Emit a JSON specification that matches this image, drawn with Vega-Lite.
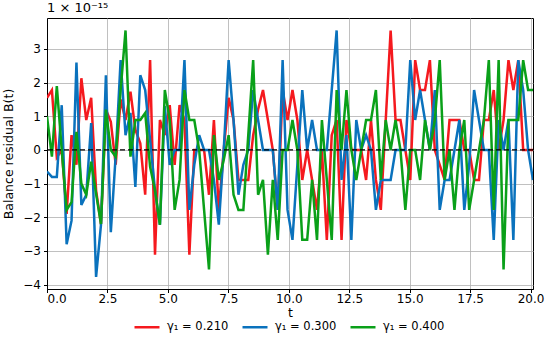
{
"$schema": "https://vega.github.io/schema/vega-lite/v6.json",
"width": 486, "height": 271,
"autosize": "none",
"padding": {"left": 47, "top": 18, "right": 17, "bottom": 54},
"title": {"text": "1 ×  10⁻¹⁵", "anchor": "start", "frame": "group", "offset": 3, "fontSize": 13, "fontWeight": "normal", "font": "DejaVu Sans", "color": "#000"},
"config": {
  "font": "DejaVu Sans",
  "view": {"stroke": "#000", "strokeWidth": 1},
  "axis": {"grid": true, "gridColor": "#b0b0b0", "gridWidth": 0.8, "domainColor": "#000", "tickColor": "#000", "tickSize": 3.5, "labelFontSize": 12, "labelColor": "#000", "titleFontSize": 12.5, "titleFontWeight": "normal", "titleColor": "#000", "labelFont": "DejaVu Sans", "titleFont": "DejaVu Sans", "labelOverlap": false}
},
"data": {"values": [
{"t":0,"s":"γ₁ = 0.210","B":1.55},{"t":0.203,"s":"γ₁ = 0.210","B":1.78},{"t":0.406,"s":"γ₁ = 0.210","B":-0.22},{"t":0.609,"s":"γ₁ = 0.210","B":0},{"t":0.812,"s":"γ₁ = 0.210","B":-1.9},{"t":1.015,"s":"γ₁ = 0.210","B":0.44},{"t":1.218,"s":"γ₁ = 0.210","B":-0.44},{"t":1.421,"s":"γ₁ = 0.210","B":2.13},{"t":1.624,"s":"γ₁ = 0.210","B":0.89},{"t":1.827,"s":"γ₁ = 0.210","B":1.55},
{"t":2.030,"s":"γ₁ = 0.210","B":-1.2},{"t":2.233,"s":"γ₁ = 0.210","B":-2.2},{"t":2.436,"s":"γ₁ = 0.210","B":1.2},{"t":2.639,"s":"γ₁ = 0.210","B":0.84},{"t":2.842,"s":"γ₁ = 0.210","B":-0.44},{"t":3.045,"s":"γ₁ = 0.210","B":1.5},{"t":3.248,"s":"γ₁ = 0.210","B":0.89},{"t":3.452,"s":"γ₁ = 0.210","B":1.73},{"t":3.655,"s":"γ₁ = 0.210","B":0.6},{"t":3.858,"s":"γ₁ = 0.210","B":0.2},
{"t":4.061,"s":"γ₁ = 0.210","B":-1.33},{"t":4.264,"s":"γ₁ = 0.210","B":2.67},{"t":4.467,"s":"γ₁ = 0.210","B":-3.11},{"t":4.670,"s":"γ₁ = 0.210","B":0.89},{"t":4.873,"s":"γ₁ = 0.210","B":0.44},{"t":5.076,"s":"γ₁ = 0.210","B":1.33},{"t":5.279,"s":"γ₁ = 0.210","B":-0.44},{"t":5.482,"s":"γ₁ = 0.210","B":1.33},{"t":5.685,"s":"γ₁ = 0.210","B":0.89},{"t":5.888,"s":"γ₁ = 0.210","B":-3.11},
{"t":6.091,"s":"γ₁ = 0.210","B":0},{"t":6.294,"s":"γ₁ = 0.210","B":0},{"t":6.497,"s":"γ₁ = 0.210","B":0},{"t":6.700,"s":"γ₁ = 0.210","B":-1.33},{"t":6.903,"s":"γ₁ = 0.210","B":0.89},{"t":7.106,"s":"γ₁ = 0.210","B":-1.78},{"t":7.309,"s":"γ₁ = 0.210","B":0},{"t":7.512,"s":"γ₁ = 0.210","B":1.55},{"t":7.715,"s":"γ₁ = 0.210","B":0.89},{"t":7.918,"s":"γ₁ = 0.210","B":-0.89},
{"t":8.121,"s":"γ₁ = 0.210","B":-0.89},{"t":8.324,"s":"γ₁ = 0.210","B":-0.89},{"t":8.527,"s":"γ₁ = 0.210","B":0.44},{"t":8.730,"s":"γ₁ = 0.210","B":1.2},{"t":8.933,"s":"γ₁ = 0.210","B":1.78},{"t":9.136,"s":"γ₁ = 0.210","B":0.89},{"t":9.339,"s":"γ₁ = 0.210","B":0},{"t":9.542,"s":"γ₁ = 0.210","B":-1.78},{"t":9.745,"s":"γ₁ = 0.210","B":1.78},{"t":9.948,"s":"γ₁ = 0.210","B":0.89},
{"t":10.152,"s":"γ₁ = 0.210","B":1.78},{"t":10.355,"s":"γ₁ = 0.210","B":0.89},{"t":10.558,"s":"γ₁ = 0.210","B":-0.89},{"t":10.761,"s":"γ₁ = 0.210","B":0},{"t":10.964,"s":"γ₁ = 0.210","B":-0.89},{"t":11.167,"s":"γ₁ = 0.210","B":-1.78},{"t":11.370,"s":"γ₁ = 0.210","B":0},{"t":11.573,"s":"γ₁ = 0.210","B":-2.67},{"t":11.776,"s":"γ₁ = 0.210","B":0.44},{"t":11.979,"s":"γ₁ = 0.210","B":0.89},
{"t":12.182,"s":"γ₁ = 0.210","B":-2.67},{"t":12.385,"s":"γ₁ = 0.210","B":0.89},{"t":12.588,"s":"γ₁ = 0.210","B":0},{"t":12.791,"s":"γ₁ = 0.210","B":0},{"t":12.994,"s":"γ₁ = 0.210","B":0},{"t":13.197,"s":"γ₁ = 0.210","B":-0.89},{"t":13.400,"s":"γ₁ = 0.210","B":0.89},{"t":13.603,"s":"γ₁ = 0.210","B":-0.89},{"t":13.806,"s":"γ₁ = 0.210","B":-1.78},{"t":14.009,"s":"γ₁ = 0.210","B":0.89},
{"t":14.212,"s":"γ₁ = 0.210","B":3.55},{"t":14.415,"s":"γ₁ = 0.210","B":0.89},{"t":14.618,"s":"γ₁ = 0.210","B":0.89},{"t":14.821,"s":"γ₁ = 0.210","B":0},{"t":15.024,"s":"γ₁ = 0.210","B":-0.89},{"t":15.227,"s":"γ₁ = 0.210","B":2.67},{"t":15.430,"s":"γ₁ = 0.210","B":1.78},{"t":15.633,"s":"γ₁ = 0.210","B":1.78},{"t":15.836,"s":"γ₁ = 0.210","B":2.67},{"t":16.039,"s":"γ₁ = 0.210","B":0},
{"t":16.242,"s":"γ₁ = 0.210","B":-0.44},{"t":16.445,"s":"γ₁ = 0.210","B":-0.89},{"t":16.648,"s":"γ₁ = 0.210","B":0.89},{"t":16.852,"s":"γ₁ = 0.210","B":0.89},{"t":17.055,"s":"γ₁ = 0.210","B":0.89},{"t":17.258,"s":"γ₁ = 0.210","B":0},{"t":17.461,"s":"γ₁ = 0.210","B":0},{"t":17.664,"s":"γ₁ = 0.210","B":-0.89},{"t":17.867,"s":"γ₁ = 0.210","B":-0.89},{"t":18.070,"s":"γ₁ = 0.210","B":0.89},
{"t":18.273,"s":"γ₁ = 0.210","B":0.89},{"t":18.476,"s":"γ₁ = 0.210","B":1.78},{"t":18.679,"s":"γ₁ = 0.210","B":0},{"t":18.882,"s":"γ₁ = 0.210","B":0.89},{"t":19.085,"s":"γ₁ = 0.210","B":2.67},{"t":19.288,"s":"γ₁ = 0.210","B":1.78},{"t":19.491,"s":"γ₁ = 0.210","B":2.67},{"t":19.694,"s":"γ₁ = 0.210","B":0},{"t":19.897,"s":"γ₁ = 0.210","B":0},{"t":20.1,"s":"γ₁ = 0.210","B":0},

{"t":0,"s":"γ₁ = 0.300","B":-0.64},{"t":0.203,"s":"γ₁ = 0.300","B":-0.8},{"t":0.406,"s":"γ₁ = 0.300","B":-0.8},{"t":0.609,"s":"γ₁ = 0.300","B":1.33},{"t":0.812,"s":"γ₁ = 0.300","B":-2.8},{"t":1.015,"s":"γ₁ = 0.300","B":-2.1},{"t":1.218,"s":"γ₁ = 0.300","B":2.6},{"t":1.421,"s":"γ₁ = 0.300","B":-1.63},{"t":1.624,"s":"γ₁ = 0.300","B":-1.33},{"t":1.827,"s":"γ₁ = 0.300","B":0.8},
{"t":2.030,"s":"γ₁ = 0.300","B":-3.77},{"t":2.233,"s":"γ₁ = 0.300","B":-2.22},{"t":2.436,"s":"γ₁ = 0.300","B":2.22},{"t":2.639,"s":"γ₁ = 0.300","B":-2.44},{"t":2.842,"s":"γ₁ = 0.300","B":-0.15},{"t":3.045,"s":"γ₁ = 0.300","B":2.67},{"t":3.248,"s":"γ₁ = 0.300","B":0.44},{"t":3.452,"s":"γ₁ = 0.300","B":1.1},{"t":3.655,"s":"γ₁ = 0.300","B":-1.1},{"t":3.858,"s":"γ₁ = 0.300","B":2.22},
{"t":4.061,"s":"γ₁ = 0.300","B":1.78},{"t":4.264,"s":"γ₁ = 0.300","B":0.3},{"t":4.467,"s":"γ₁ = 0.300","B":-1.2},{"t":4.670,"s":"γ₁ = 0.300","B":-2.22},{"t":4.873,"s":"γ₁ = 0.300","B":1.3},{"t":5.076,"s":"γ₁ = 0.300","B":-0.44},{"t":5.279,"s":"γ₁ = 0.300","B":0},{"t":5.482,"s":"γ₁ = 0.300","B":0},{"t":5.685,"s":"γ₁ = 0.300","B":2.67},{"t":5.888,"s":"γ₁ = 0.300","B":-1.78},
{"t":6.091,"s":"γ₁ = 0.300","B":-0.44},{"t":6.294,"s":"γ₁ = 0.300","B":0.44},{"t":6.497,"s":"γ₁ = 0.300","B":0},{"t":6.700,"s":"γ₁ = 0.300","B":0},{"t":6.903,"s":"γ₁ = 0.300","B":-0.89},{"t":7.106,"s":"γ₁ = 0.300","B":-2.22},{"t":7.309,"s":"γ₁ = 0.300","B":0},{"t":7.512,"s":"γ₁ = 0.300","B":2.67},{"t":7.715,"s":"γ₁ = 0.300","B":0.89},{"t":7.918,"s":"γ₁ = 0.300","B":-1.33},
{"t":8.121,"s":"γ₁ = 0.300","B":-0.44},{"t":8.324,"s":"γ₁ = 0.300","B":0},{"t":8.527,"s":"γ₁ = 0.300","B":1.78},{"t":8.730,"s":"γ₁ = 0.300","B":0.89},{"t":8.933,"s":"γ₁ = 0.300","B":0},{"t":9.136,"s":"γ₁ = 0.300","B":0},{"t":9.339,"s":"γ₁ = 0.300","B":0},{"t":9.542,"s":"γ₁ = 0.300","B":-1.78},{"t":9.745,"s":"γ₁ = 0.300","B":2.67},{"t":9.948,"s":"γ₁ = 0.300","B":-1.78},
{"t":10.152,"s":"γ₁ = 0.300","B":-2.67},{"t":10.355,"s":"γ₁ = 0.300","B":-0.44},{"t":10.558,"s":"γ₁ = 0.300","B":1.78},{"t":10.761,"s":"γ₁ = 0.300","B":0},{"t":10.964,"s":"γ₁ = 0.300","B":0.89},{"t":11.167,"s":"γ₁ = 0.300","B":0},{"t":11.370,"s":"γ₁ = 0.300","B":0},{"t":11.573,"s":"γ₁ = 0.300","B":0},{"t":11.776,"s":"γ₁ = 0.300","B":1.78},{"t":11.979,"s":"γ₁ = 0.300","B":3.55},
{"t":12.182,"s":"γ₁ = 0.300","B":-0.89},{"t":12.385,"s":"γ₁ = 0.300","B":0.44},{"t":12.588,"s":"γ₁ = 0.300","B":-2.67},{"t":12.791,"s":"γ₁ = 0.300","B":0.89},{"t":12.994,"s":"γ₁ = 0.300","B":0},{"t":13.197,"s":"γ₁ = 0.300","B":0.44},{"t":13.400,"s":"γ₁ = 0.300","B":0},{"t":13.603,"s":"γ₁ = 0.300","B":-1.78},{"t":13.806,"s":"γ₁ = 0.300","B":-0.89},{"t":14.009,"s":"γ₁ = 0.300","B":-0.89},
{"t":14.212,"s":"γ₁ = 0.300","B":-0.89},{"t":14.415,"s":"γ₁ = 0.300","B":0},{"t":14.618,"s":"γ₁ = 0.300","B":0},{"t":14.821,"s":"γ₁ = 0.300","B":0},{"t":15.024,"s":"γ₁ = 0.300","B":2.67},{"t":15.227,"s":"γ₁ = 0.300","B":0.89},{"t":15.430,"s":"γ₁ = 0.300","B":1.78},{"t":15.633,"s":"γ₁ = 0.300","B":0.89},{"t":15.836,"s":"γ₁ = 0.300","B":0},{"t":16.039,"s":"γ₁ = 0.300","B":1.78},
{"t":16.242,"s":"γ₁ = 0.300","B":-1.78},{"t":16.445,"s":"γ₁ = 0.300","B":-0.89},{"t":16.648,"s":"γ₁ = 0.300","B":-0.89},{"t":16.852,"s":"γ₁ = 0.300","B":0},{"t":17.055,"s":"γ₁ = 0.300","B":0.89},{"t":17.258,"s":"γ₁ = 0.300","B":-1.78},{"t":17.461,"s":"γ₁ = 0.300","B":-0.44},{"t":17.664,"s":"γ₁ = 0.300","B":1.78},{"t":17.867,"s":"γ₁ = 0.300","B":0.89},{"t":18.070,"s":"γ₁ = 0.300","B":0},
{"t":18.273,"s":"γ₁ = 0.300","B":0},{"t":18.476,"s":"γ₁ = 0.300","B":-2.67},{"t":18.679,"s":"γ₁ = 0.300","B":0.89},{"t":18.882,"s":"γ₁ = 0.300","B":0},{"t":19.085,"s":"γ₁ = 0.300","B":0.89},{"t":19.288,"s":"γ₁ = 0.300","B":-2.67},{"t":19.491,"s":"γ₁ = 0.300","B":2.67},{"t":19.694,"s":"γ₁ = 0.300","B":1.78},{"t":19.897,"s":"γ₁ = 0.300","B":0},{"t":20.1,"s":"γ₁ = 0.300","B":-0.89},

{"t":0,"s":"γ₁ = 0.400","B":1.0},{"t":0.203,"s":"γ₁ = 0.400","B":-0.2},{"t":0.406,"s":"γ₁ = 0.400","B":1.9},{"t":0.609,"s":"γ₁ = 0.400","B":0},{"t":0.812,"s":"γ₁ = 0.400","B":-1.78},{"t":1.015,"s":"γ₁ = 0.400","B":-1.55},{"t":1.218,"s":"γ₁ = 0.400","B":0.54},{"t":1.421,"s":"γ₁ = 0.400","B":-1.0},{"t":1.624,"s":"γ₁ = 0.400","B":-1.33},{"t":1.827,"s":"γ₁ = 0.400","B":-0.35},
{"t":2.030,"s":"γ₁ = 0.400","B":-1.3},{"t":2.233,"s":"γ₁ = 0.400","B":-2.2},{"t":2.436,"s":"γ₁ = 0.400","B":1.2},{"t":2.639,"s":"γ₁ = 0.400","B":0},{"t":2.842,"s":"γ₁ = 0.400","B":-0.2},{"t":3.045,"s":"γ₁ = 0.400","B":1.78},{"t":3.248,"s":"γ₁ = 0.400","B":3.55},{"t":3.452,"s":"γ₁ = 0.400","B":-0.2},{"t":3.655,"s":"γ₁ = 0.400","B":0.89},{"t":3.858,"s":"γ₁ = 0.400","B":0.89},
{"t":4.061,"s":"γ₁ = 0.400","B":1.1},{"t":4.264,"s":"γ₁ = 0.400","B":-0.5},{"t":4.467,"s":"γ₁ = 0.400","B":-1.2},{"t":4.670,"s":"γ₁ = 0.400","B":-2.22},{"t":4.873,"s":"γ₁ = 0.400","B":1.78},{"t":5.076,"s":"γ₁ = 0.400","B":0.89},{"t":5.279,"s":"γ₁ = 0.400","B":-1.78},{"t":5.482,"s":"γ₁ = 0.400","B":-0.89},{"t":5.685,"s":"γ₁ = 0.400","B":1.78},{"t":5.888,"s":"γ₁ = 0.400","B":0.89},
{"t":6.091,"s":"γ₁ = 0.400","B":0.89},{"t":6.294,"s":"γ₁ = 0.400","B":0},{"t":6.497,"s":"γ₁ = 0.400","B":-1.78},{"t":6.700,"s":"γ₁ = 0.400","B":-3.55},{"t":6.903,"s":"γ₁ = 0.400","B":0.44},{"t":7.106,"s":"γ₁ = 0.400","B":-0.89},{"t":7.309,"s":"γ₁ = 0.400","B":-0.3},{"t":7.512,"s":"γ₁ = 0.400","B":0.44},{"t":7.715,"s":"γ₁ = 0.400","B":-1.33},{"t":7.918,"s":"γ₁ = 0.400","B":-1.78},
{"t":8.121,"s":"γ₁ = 0.400","B":-1.78},{"t":8.324,"s":"γ₁ = 0.400","B":0.44},{"t":8.527,"s":"γ₁ = 0.400","B":2.67},{"t":8.730,"s":"γ₁ = 0.400","B":-1.33},{"t":8.933,"s":"γ₁ = 0.400","B":-0.89},{"t":9.136,"s":"γ₁ = 0.400","B":-3.11},{"t":9.339,"s":"γ₁ = 0.400","B":-0.89},{"t":9.542,"s":"γ₁ = 0.400","B":-2.67},{"t":9.745,"s":"γ₁ = 0.400","B":0},{"t":9.948,"s":"γ₁ = 0.400","B":0},
{"t":10.152,"s":"γ₁ = 0.400","B":0.89},{"t":10.355,"s":"γ₁ = 0.400","B":0},{"t":10.558,"s":"γ₁ = 0.400","B":-2.67},{"t":10.761,"s":"γ₁ = 0.400","B":-2.67},{"t":10.964,"s":"γ₁ = 0.400","B":-0.89},{"t":11.167,"s":"γ₁ = 0.400","B":-2.67},{"t":11.370,"s":"γ₁ = 0.400","B":0.89},{"t":11.573,"s":"γ₁ = 0.400","B":-0.89},{"t":11.776,"s":"γ₁ = 0.400","B":-2.67},{"t":11.979,"s":"γ₁ = 0.400","B":1.78},
{"t":12.182,"s":"γ₁ = 0.400","B":0},{"t":12.385,"s":"γ₁ = 0.400","B":1.78},{"t":12.588,"s":"γ₁ = 0.400","B":0},{"t":12.791,"s":"γ₁ = 0.400","B":-0.89},{"t":12.994,"s":"γ₁ = 0.400","B":0},{"t":13.197,"s":"γ₁ = 0.400","B":0.89},{"t":13.400,"s":"γ₁ = 0.400","B":0.89},{"t":13.603,"s":"γ₁ = 0.400","B":1.78},{"t":13.806,"s":"γ₁ = 0.400","B":-0.89},{"t":14.009,"s":"γ₁ = 0.400","B":0.89},
{"t":14.212,"s":"γ₁ = 0.400","B":0},{"t":14.415,"s":"γ₁ = 0.400","B":0.89},{"t":14.618,"s":"γ₁ = 0.400","B":0},{"t":14.821,"s":"γ₁ = 0.400","B":-1.78},{"t":15.024,"s":"γ₁ = 0.400","B":0},{"t":15.227,"s":"γ₁ = 0.400","B":0},{"t":15.430,"s":"γ₁ = 0.400","B":-0.89},{"t":15.633,"s":"γ₁ = 0.400","B":0.89},{"t":15.836,"s":"γ₁ = 0.400","B":0},{"t":16.039,"s":"γ₁ = 0.400","B":0.89},
{"t":16.242,"s":"γ₁ = 0.400","B":2.67},{"t":16.445,"s":"γ₁ = 0.400","B":-0.89},{"t":16.648,"s":"γ₁ = 0.400","B":0},{"t":16.852,"s":"γ₁ = 0.400","B":-1.78},{"t":17.055,"s":"γ₁ = 0.400","B":0},{"t":17.258,"s":"γ₁ = 0.400","B":0.89},{"t":17.461,"s":"γ₁ = 0.400","B":-1.78},{"t":17.664,"s":"γ₁ = 0.400","B":-0.89},{"t":17.867,"s":"γ₁ = 0.400","B":0},{"t":18.070,"s":"γ₁ = 0.400","B":0.89},
{"t":18.273,"s":"γ₁ = 0.400","B":2.67},{"t":18.476,"s":"γ₁ = 0.400","B":-1.78},{"t":18.679,"s":"γ₁ = 0.400","B":2.67},{"t":18.882,"s":"γ₁ = 0.400","B":-3.55},{"t":19.085,"s":"γ₁ = 0.400","B":0.89},{"t":19.288,"s":"γ₁ = 0.400","B":0.89},{"t":19.491,"s":"γ₁ = 0.400","B":0.89},{"t":19.694,"s":"γ₁ = 0.400","B":2.67},{"t":19.897,"s":"γ₁ = 0.400","B":1.78},{"t":20.1,"s":"γ₁ = 0.400","B":1.78}
]},
"layer": [
  {"mark": {"type": "line", "strokeWidth": 2.5, "clip": true},
   "encoding": {
     "x": {"field": "t", "type": "quantitative", "scale": {"domain": [0, 20.1], "nice": false, "zero": false},
           "axis": {"values": [0, 2.5, 5, 7.5, 10, 12.5, 15, 17.5, 20], "format": ".1f", "title": "t", "titlePadding": 2, "labelPadding": 1, "labelOverlap": false}},
     "y": {"field": "B", "type": "quantitative", "scale": {"domain": [-4.13, 3.92], "nice": false},
           "axis": {"values": [-4, -3, -2, -1, 0, 1, 2, 3], "format": "d", "title": "Balance residual B(t)", "titlePadding": 7, "labelPadding": 3, "labelOverlap": false}},
     "color": {"field": "s", "type": "nominal",
               "scale": {"domain": ["γ₁ = 0.210", "γ₁ = 0.300", "γ₁ = 0.400"], "range": ["#f5191e", "#0a72bd", "#0aa019"]},
               "legend": {"orient": "none", "legendX": 86, "legendY": 295, "direction": "horizontal", "title": null,
                          "symbolType": "stroke", "symbolStrokeWidth": 2.5, "symbolSize": 625, "labelFontSize": 11.5,
                          "columnPadding": 8, "labelOffset": 6}}
   }},
  {"data": {"values": [{"z": 0}]},
   "mark": {"type": "rule", "color": "#000", "strokeDash": [5, 3], "strokeWidth": 1.3},
   "encoding": {"y": {"field": "z", "type": "quantitative", "scale": {"domain": [-4.13, 3.92], "nice": false},
           "axis": {"values": [-4, -3, -2, -1, 0, 1, 2, 3], "format": "d", "title": "Balance residual B(t)", "titlePadding": 7, "labelPadding": 3, "labelOverlap": false}}}}
]
}
